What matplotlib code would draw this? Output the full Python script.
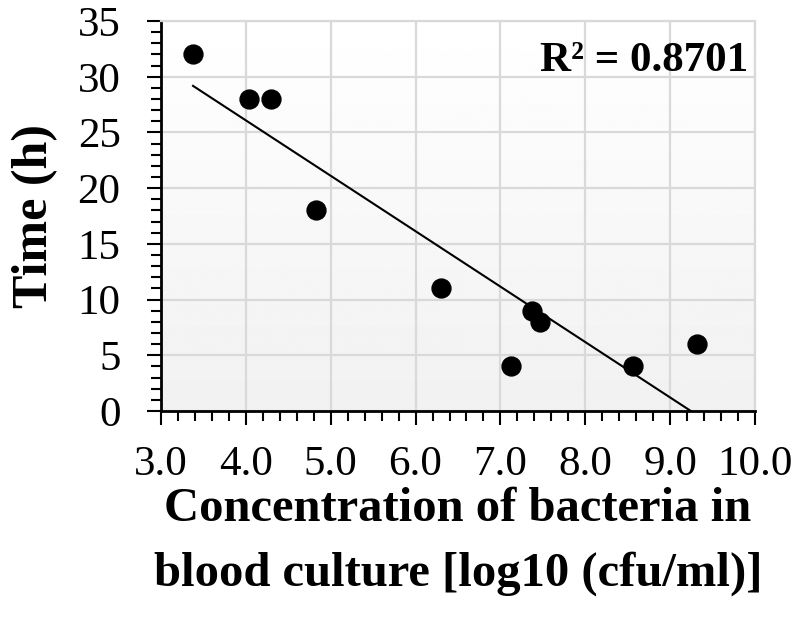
import numpy as np
import matplotlib.pyplot as plt
from matplotlib.ticker import MultipleLocator, FormatStrFormatter

plt.rcParams['font.family'] = ['Liberation Serif', 'DejaVu Serif']

# data
conc = [3.38, 4.04, 4.30, 4.83, 6.30, 7.12, 7.37, 7.47, 8.56, 9.32]
hours = [32, 28, 28, 18, 11, 4, 9, 8, 4, 6]
r2_text = "R² = 0.8701"

fig = plt.figure(figsize=(8, 6.19), dpi=100)
ax = fig.add_axes([0.201, 0.336, 0.743, 0.630])

ax.set_xlim(3.0, 10.0)
ax.set_ylim(0, 35)

# gradient background, white top to light grey bottom
grad = np.linspace(1.0, 0.945, 256).reshape(-1, 1)
ax.imshow(grad, extent=[3.0, 10.0, 0, 35], aspect='auto', cmap='gray',
          vmin=0, vmax=1, zorder=0)

ax.grid(True, color='#d9d9d9', linewidth=1.6, zorder=1)
ax.set_axisbelow(True)

ax.scatter(conc, hours, s=185, color='black', zorder=3)

# linear trendline
x = np.array(conc)
y = np.array(hours)
m, b = np.polyfit(x, y, 1)
xs = np.array([x.min(), x.max()])
ax.plot(xs, m * xs + b, color='black', linewidth=1.5, zorder=2)

ax.text(0.988, 0.898, r2_text, transform=ax.transAxes, ha='right', va='center',
        fontsize=31, fontweight='bold', zorder=4)

ax.xaxis.set_major_locator(MultipleLocator(1.0))
ax.xaxis.set_minor_locator(MultipleLocator(0.2))
ax.yaxis.set_major_locator(MultipleLocator(5))
ax.yaxis.set_minor_locator(MultipleLocator(1))
ax.xaxis.set_major_formatter(FormatStrFormatter('%.1f'))

ax.tick_params(which='major', direction='out', length=10, width=1.5,
               labelsize=31)
ax.tick_params(axis='x', which='major', pad=15)
ax.tick_params(axis='y', which='major', pad=19)
ax.tick_params(which='minor', direction='out', length=7, width=1.5)

for side in ['left', 'bottom']:
    ax.spines[side].set_color('black')
    ax.spines[side].set_linewidth(2)
for side in ['right', 'top']:
    ax.spines[side].set_color('#d9d9d9')
    ax.spines[side].set_linewidth(1.6)

ax.set_xlabel("Concentration of bacteria in\nblood culture [log10 (cfu/ml)]",
              fontsize=35, fontweight='bold', linespacing=1.6, labelpad=2)
ax.set_ylabel("Time (h)", fontsize=36, fontweight='bold', labelpad=14)

fig.savefig("out.png", dpi=100)
